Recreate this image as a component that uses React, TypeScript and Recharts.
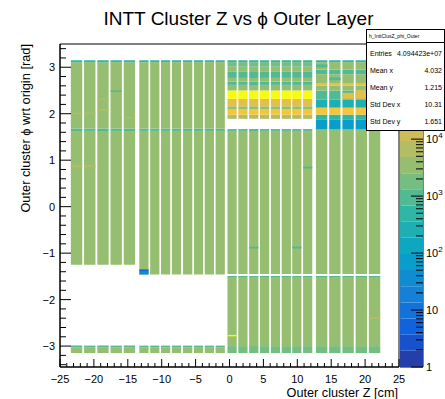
import React from 'react';
import { ComposedChart, BarChart, Bar, XAxis, YAxis, ReferenceArea } from 'recharts';

const FONT = '"Liberation Sans", Arial, Helvetica, sans-serif';

// colour scale: log10 of the top of the z range, split into 20 contours
const Z_DECADES = 5.67;
const N_CONTOURS = 20;

// ROOT kBird palette
const birdStops = [0, 0.125, 0.25, 0.375, 0.5, 0.625, 0.75, 0.875, 1];
const birdRed = [0.2082, 0.0592, 0.078, 0.0232, 0.1802, 0.5301, 0.8186, 0.9956, 0.9764];
const birdGreen = [0.1664, 0.3599, 0.5041, 0.6419, 0.7178, 0.7492, 0.7328, 0.7862, 0.9832];
const birdBlue = [0.5293, 0.8684, 0.8385, 0.7914, 0.6425, 0.4662, 0.3499, 0.1968, 0.0539];

// ladder columns (start z in cm) for the four sensor groups
const leftOuterZ = [-23.4, -21.45, -19.5, -17.55, -15.6];
const leftInnerZ = [-13.3, -11.7, -10.1, -8.5, -6.85, -5.25, -3.65, -2.05];
const rightInnerZ = [-0.3, 1.3, 2.9, 4.5, 6.1, 7.7, 9.25, 10.85];
const rightOuterZ = [12.75, 14.7, 16.65, 18.6, 20.55];
const OUTER_W = 1.68;
const INNER_W = 1.36;

// phi rows shared by every column of a group: [phiLow, phiHigh, entries]
const leftOuterRows = [
  [-3.15, -3.03, 3000],
  [-3.03, -2.99, 700],
  [-1.25, 1.63, 3000],
  [1.63, 1.68, 900],
  [1.68, 3.11, 3000],
  [3.11, 3.15, 500],
];
const leftInnerRows = [
  [-3.15, -3.03, 3000],
  [-3.03, -2.99, 700],
  [-1.46, 1.63, 3000],
  [1.63, 1.68, 900],
  [1.68, 3.11, 3000],
  [3.11, 3.15, 500],
];
const rightInnerRows = [
  [-3.15, -3.0, 1500],
  [-3.0, -1.53, 3000],
  [-1.53, -1.49, 900],
  [-1.45, 1.63, 3000],
  [1.63, 1.67, 900],
  [1.89, 1.98, 6000],
  [1.98, 2.09, 50000],
  [2.09, 2.16, 3000],
  [2.16, 2.32, 20000],
  [2.32, 2.5, 300000],
  [2.5, 2.62, 3000],
  [2.62, 2.69, 1200],
  [2.69, 2.77, 3000],
  [2.77, 2.9, 1200],
  [2.9, 3.01, 3000],
  [3.01, 3.11, 1500],
  [3.11, 3.15, 500],
];
const rightOuterRows = [
  [-3.15, -3.0, 1500],
  [-3.0, -1.53, 3000],
  [-1.53, -1.49, 900],
  [-1.45, 1.66, 3000],
  [1.66, 1.88, 60],
  [1.88, 1.98, 400],
  [1.98, 2.13, 40000],
  [2.13, 2.3, 250],
  [2.3, 2.5, 1200],
  [2.5, 2.6, 3000],
  [2.6, 2.66, 20000],
  [2.66, 2.85, 3000],
  [2.85, 2.95, 1200],
  [2.95, 3.11, 3000],
  [3.11, 3.15, 500],
];

// single-column features: [column, phiLow, phiHigh, entries]
const leftOuterSpots = [
  [0, 0.85, 0.89, 6000], [1, 0.85, 0.89, 6000],
  [0, 1.99, 2.02, 6000], [1, 1.99, 2.02, 6000],
  [2, 2.06, 2.09, 6000], [2, 2.29, 2.32, 6000],
  [4, 1.9, 1.93, 6000], [3, 2.47, 2.5, 900],
];
const leftInnerSpots = [
  [0, -1.4, -1.35, 5],
  [0, -1.46, -1.4, 30],
];
const rightInnerSpots = [
  [0, -2.79, -2.76, 300000],
  [2, -0.9, -0.86, 900], [6, -0.9, -0.86, 900],
  [7, 0.82, 0.86, 900],
];
const rightOuterSpots = [
  [0, 3.0, 3.06, 1200], [1, 2.72, 2.78, 1200],
  [2, 2.32, 2.45, 20000], [3, 2.32, 2.5, 20000], [4, 2.35, 2.5, 10000],
  [4, -2.42, -2.38, 6000],
];

const xMajor = [-25, -20, -15, -10, -5, 0, 5, 10, 15, 20, 25];
const yMajor = [-3, -2, -1, 0, 1, 2, 3];
// labelled decades on the colour axis (1 .. 10^4)
const zMajor = [0, 1, 2, 3, 4];

const statsTitle = 'h_InttClusZ_phi_Outer';
const statsRows = [
  ['Entries', '4.094423e+07'],
  ['Mean x', '4.032'],
  ['Mean y', '1.215'],
  ['Std Dev x', '10.31'],
  ['Std Dev y', '1.651'],
];

function bird(t: number) {
  let i = 0;
  while (i < birdStops.length - 2 && t > birdStops[i + 1]) i++;
  const f = (t - birdStops[i]) / (birdStops[i + 1] - birdStops[i]);
  const c = (a: number[]) => Math.round(255 * (a[i] + f * (a[i + 1] - a[i])));
  return `rgb(${c(birdRed)},${c(birdGreen)},${c(birdBlue)})`;
}

const levelColor = (lvl: number) => bird((lvl + 0.99) / N_CONTOURS);

function countColor(n: number) {
  const lvl = Math.floor((Math.log10(n) / Z_DECADES) * N_CONTOURS);
  return levelColor(Math.min(N_CONTOURS - 1, Math.max(0, lvl)));
}

type Cell = { x1: number; x2: number; y1: number; y2: number; fill: string };

function buildCells(starts: number[], width: number, rows: number[][], spots: number[][]): Cell[] {
  const out: Cell[] = [];
  starts.forEach((z) => {
    rows.forEach(([lo, hi, n]) => out.push({ x1: z, x2: z + width, y1: lo, y2: hi, fill: countColor(n) }));
  });
  spots.forEach(([col, lo, hi, n]) => {
    const z = starts[col];
    out.push({ x1: z, x2: z + width, y1: lo, y2: hi, fill: countColor(n) });
  });
  return out;
}

const cells = [
  ...buildCells(leftOuterZ, OUTER_W, leftOuterRows, leftOuterSpots),
  ...buildCells(leftInnerZ, INNER_W, leftInnerRows, leftInnerSpots),
  ...buildCells(rightInnerZ, INNER_W, rightInnerRows, rightInnerSpots),
  ...buildCells(rightOuterZ, OUTER_W, rightOuterRows, rightOuterSpots),
];

const xTicks: number[] = [];
for (let v = -25; v <= 25; v++) xTicks.push(v);
const yTicks: number[] = [];
for (let k = -17; k <= 17; k++) yTicks.push(Number((k * 0.2).toFixed(2)));
const zTicks: number[] = [...zMajor];
for (let d = 0; d <= 5; d++) {
  for (let k = d === 5 ? 1 : 2; k <= 9; k++) {
    const v = d + Math.log10(k);
    if (v <= Z_DECADES) zTicks.push(v);
  }
}

const colorbarData = [
  Object.fromEntries([['name', 'z'], ...Array.from({ length: N_CONTOURS }, (_, i) => [`l${i}`, Z_DECADES / N_CONTOURS])]),
];

const fmt = (v: number) => (v < 0 ? `\u2212${Math.abs(v)}` : String(v));

function XTick(props: any) {
  const { x, y, payload } = props;
  const major = xMajor.includes(payload.value);
  return (
    <g>
      <line x1={x} x2={x} y1={y} y2={y - (major ? 8 : 4)} stroke="#000" />
      {major && (
        <text x={x} y={y + 16} textAnchor="middle" fontSize={11} fontFamily={FONT} fill="#000">
          {fmt(payload.value)}
        </text>
      )}
    </g>
  );
}

function YTick(props: any) {
  const { x, y, payload } = props;
  const major = yMajor.includes(payload.value);
  return (
    <g>
      <line x1={x} x2={x + (major ? 11 : 6)} y1={y} y2={y} stroke="#000" />
      {major && (
        <text x={x - 5} y={y + 4} textAnchor="end" fontSize={11} fontFamily={FONT} fill="#000">
          {fmt(payload.value)}
        </text>
      )}
    </g>
  );
}

function ZTick(props: any) {
  const { x, y, payload } = props;
  const d = payload.value;
  const major = zMajor.includes(d) || Math.abs(d - 5) < 1e-9;
  const labelled = zMajor.includes(d);
  return (
    <g>
      <line x1={x} x2={x - (major ? 12 : 7)} y1={y} y2={y} stroke="#000" />
      {labelled && (
        <text x={x + 3} y={y + 4} fontSize={11} fontFamily={FONT} fill="#000">
          {d === 0 ? '1' : '10'}
          {d > 1 && (
            <tspan dy={-5} fontSize={8}>
              {d}
            </tspan>
          )}
        </text>
      )}
    </g>
  );
}

export default function App() {
  return (
    <div style={{ position: 'absolute', left: 0, top: 0, width: 445, height: 399, overflow: 'hidden', background: '#fff' }}>
      <div style={{ position: 'absolute', left: 0, top: 0 }}>
        <ComposedChart width={445} height={399} margin={{ top: 44, right: 46, bottom: 0, left: 0 }} data={cells}>
          <XAxis
            type="number"
            dataKey="x1"
            domain={[-25, 25]}
            ticks={xTicks}
            interval={0}
            height={32}
            tickSize={0}
            tickMargin={0}
            tickLine={false}
            axisLine={{ stroke: '#000' }}
            tick={XTick}
            allowDataOverflow
          />
          <YAxis
            type="number"
            dataKey="y1"
            domain={[-3.45, 3.5]}
            ticks={yTicks}
            interval={0}
            width={60}
            tickSize={0}
            tickMargin={0}
            tickLine={false}
            axisLine={{ stroke: '#000' }}
            tick={YTick}
            allowDataOverflow
          />
          {cells.map((c, i) => (
            <ReferenceArea key={i} x1={c.x1} x2={c.x2} y1={c.y1} y2={c.y2} fill={c.fill} fillOpacity={1} stroke="none" />
          ))}
          <ReferenceArea x1={-25} x2={25} y1={-3.45} y2={3.5} fill="none" stroke="#000" strokeWidth={1} />
        </ComposedChart>
      </div>

      <div style={{ position: 'absolute', left: 400, top: 0 }}>
        <BarChart width={45} height={399} data={colorbarData} margin={{ top: 44, right: 0, bottom: 32, left: 0 }} barCategoryGap={0}>
          <XAxis dataKey="name" hide />
          <YAxis
            orientation="right"
            type="number"
            domain={[0, Z_DECADES]}
            ticks={zTicks}
            interval={0}
            width={22}
            tickSize={0}
            tickMargin={0}
            tickLine={false}
            axisLine={false}
            tick={ZTick}
            allowDataOverflow
          />
          {Array.from({ length: N_CONTOURS }, (_, i) => (
            <Bar key={i} dataKey={`l${i}`} stackId="z" fill={levelColor(i)} isAnimationActive={false} />
          ))}
          <ReferenceArea y1={0} y2={Z_DECADES} fill="none" stroke="#000" strokeWidth={1} />
        </BarChart>
      </div>

      <svg width={445} height={399} style={{ position: 'absolute', left: 0, top: 0, pointerEvents: 'none' }}>
        <text x={238.5} y={25} textAnchor="middle" fontSize={19} fontFamily={FONT} fill="#000">
          INTT Cluster Z vs ϕ Outer Layer
        </text>
        <text x={398} y={397} textAnchor="end" fontSize={12.7} fontFamily={FONT} fill="#000">
          Outer cluster Z [cm]
        </text>
        <text x={30} y={44} textAnchor="end" fontSize={12.8} fontFamily={FONT} fill="#000" transform="rotate(-90 30 44)">
          Outer cluster ϕ wrt origin [rad]
        </text>
      </svg>

      {/* statistics box */}
      <div
        style={{
          position: 'absolute',
          left: 366,
          top: 29,
          width: 77,
          background: '#fff',
          border: '1px solid #000',
          fontFamily: FONT,
          fontSize: 7,
          color: '#000',
        }}
      >
        <div style={{ height: 12, borderBottom: '1px solid #000', fontSize: 5, lineHeight: '12px', whiteSpace: 'nowrap', paddingLeft: 2 }}>
          {statsTitle}
        </div>
        <div style={{ paddingTop: 2 }}>
          {statsRows.map(([k, v]) => (
            <div key={k} style={{ height: 17, lineHeight: '17px', display: 'flex', justifyContent: 'space-between', padding: '0 2px 0 3px', whiteSpace: 'nowrap' }}>
              <span>{k}</span>
              <span>{v}</span>
            </div>
          ))}
        </div>
      </div>
    </div>
  );
}
